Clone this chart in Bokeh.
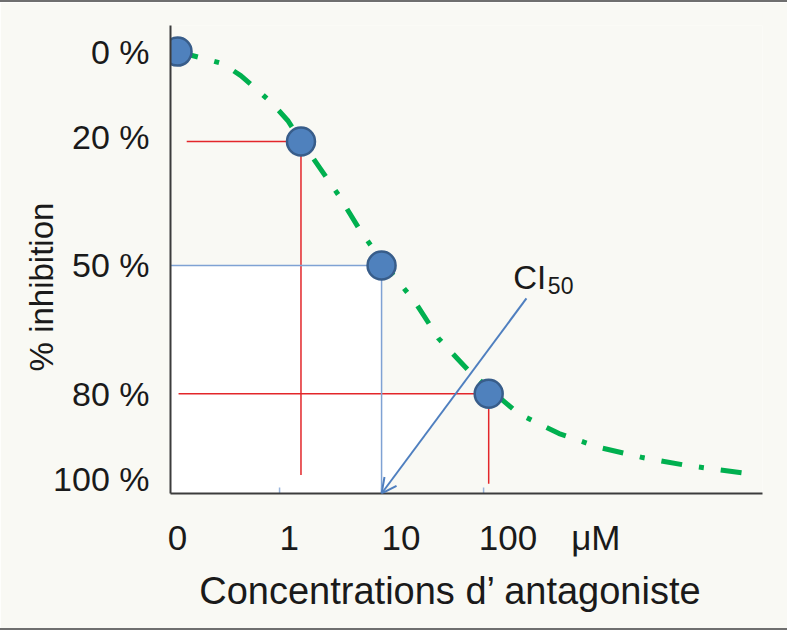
from bokeh.plotting import figure
from bokeh.models import Range1d, FixedTicker, Arrow, OpenHead, Label
from bokeh.embed import file_html
from bokeh.resources import INLINE

# x is the schematic concentration axis in decade steps: 0 -> 0, 1 -> 1, 10 -> 2, 100 -> 3
conc_ticks = [0, 1, 2, 3]
conc_labels = ["0", "1", "10", "100"]
conc_unit = "μM"
inhib_ticks = [0, 20, 50, 80, 100]
inhib_labels = ["0 %", "20 %", "50 %", "80 %", "100 %"]

# measured points
point_pos = [0.0, 1.21, 2.0, 3.05]
point_inhib = [0, 21, 50, 80]

# dose-response curve
curve_pos = [0.0, 0.44, 0.62, 0.79, 0.94, 1.08, 1.21, 1.58, 1.79, 2.02, 2.33,
             2.56, 2.85, 3.05, 3.34, 3.74, 4.13, 4.56, 4.98, 5.64]
curve_inhib = [0, 2.8, 5.6, 9.1, 12.4, 16.1, 20.8, 33.6, 41.8, 49.5, 58.6,
               67.1, 74.5, 78.7, 84.6, 89.3, 92.5, 94.9, 96.7, 98.8]

FONT = "Liberation Sans"
BG = "#f9f9f4"
RED = "#e3262a"
BLUE_LINE = "#7fa2d4"
ARROW_BLUE = "#4f7fbf"
NB = "\u00a0"

x0, x1 = -0.069, 5.734
y_top, y_bot = -6.1, 103.3

p = figure(width=787, height=630, output_backend="svg", toolbar_location=None,
           x_range=Range1d(x0, x1), y_range=Range1d(y_bot, y_top),
           min_border_left=170, min_border_right=25, min_border_top=23, min_border_bottom=139,
           styles={"border-top": "2px solid #6f6f6f", "border-bottom": "2px solid #6f6f6f"})
p.background_fill_color = BG
p.border_fill_color = BG
p.outline_line_color = None
p.grid.grid_line_color = None

# white area under the 50 % line, up to the CI50 arrow
ax_s, ay_s = 3.42, 57.7          # arrow start (label side)
ax_e, ay_e = point_pos[2], y_bot # arrow tip on the x axis
cut = ax_s + (point_inhib[3] - ay_s) * (ax_e - ax_s) / (ay_e - ay_s)
p.patch([x0, point_pos[2], point_pos[2], cut, point_pos[2], x0],
        [point_inhib[2], point_inhib[2], point_inhib[3], point_inhib[3], y_bot, y_bot],
        fill_color="white", line_color=None)

# guide lines
p.segment(x0=[0.09, point_pos[1]], y0=[point_inhib[1], point_inhib[1]],
          x1=[point_pos[1], point_pos[1]], y1=[point_inhib[1], 99],
          line_color=RED, line_width=1.5)
p.segment(x0=[0.01, point_pos[3]], y0=[point_inhib[3], point_inhib[3]],
          x1=[point_pos[3], point_pos[3]], y1=[point_inhib[3], 101],
          line_color=RED, line_width=1.5)
p.segment(x0=[x0, point_pos[2]], y0=[point_inhib[2], point_inhib[2]],
          x1=[point_pos[2], point_pos[2]], y1=[point_inhib[2], y_bot],
          line_color=BLUE_LINE, line_width=1.5)

# small tick marks on the x axis
p.segment(x0=conc_ticks[1:], y0=[y_bot] * 3, x1=conc_ticks[1:], y1=[y_bot - 1.4] * 3,
          line_color="#9ab5dc", line_width=1.5)

p.line(curve_pos, curve_inhib, line_color="#00b04f", line_width=5,
       line_dash="21 17 5 17")

p.add_layout(Arrow(x_start=ax_s, y_start=ay_s, x_end=ax_e, y_end=ay_e,
                   line_color=ARROW_BLUE, line_width=2,
                   end=OpenHead(size=15, line_color=ARROW_BLUE, line_width=2)))

p.scatter(point_pos, point_inhib, size=28, fill_color="#4f81bd",
          line_color="#385d8a", line_width=2.5)

p.add_layout(Label(x=3.29, y=52.8, text="CI", text_font=FONT, text_font_size="33px",
                   text_color="#1a1a1a", text_baseline="alphabetic"))
p.add_layout(Label(x=3.63, y=54.7, text="50", text_font=FONT, text_font_size="23px",
                   text_color="#1a1a1a", text_baseline="alphabetic"))

# axes (labels sit to the right of their ticks, as in the original slide)
unit_pos = 4.1
pads = [0, 2, 4, 5]
p.xaxis.ticker = FixedTicker(ticks=conc_ticks + [unit_pos])
overrides = {t: NB * n + lab for t, lab, n in zip(conc_ticks, conc_labels, pads)}
overrides[unit_pos] = conc_unit
p.xaxis.major_label_overrides = overrides
p.xaxis.major_tick_line_color = None
p.xaxis.major_label_standoff = 18
p.xaxis.axis_label = "Concentrations d’ antagoniste" + NB * 3
p.xaxis.axis_label_standoff = 10

p.yaxis.ticker = FixedTicker(ticks=inhib_ticks)
p.yaxis.major_label_overrides = dict(zip(inhib_ticks, inhib_labels))
p.yaxis.major_tick_line_color = None
p.yaxis.major_label_standoff = 15
p.yaxis.axis_label = "% inhibition" + NB * 6
p.yaxis.axis_label_standoff = -10

for ax in (p.xaxis, p.yaxis):
    ax.minor_tick_line_color = None
    ax.axis_line_color = "#3c3c3c"
    ax.axis_line_width = 2
    ax.major_label_text_font = FONT
    ax.major_label_text_color = "#1a1a1a"
    ax.axis_label_text_font = FONT
    ax.axis_label_text_font_style = "normal"
    ax.axis_label_text_color = "#1a1a1a"
p.xaxis.major_label_text_font_size = "35px"
p.yaxis.major_label_text_font_size = "34px"
p.xaxis.axis_label_text_font_size = "38px"
p.yaxis.axis_label_text_font_size = "33px"

open("out.html", "w").write(file_html(p, INLINE))
